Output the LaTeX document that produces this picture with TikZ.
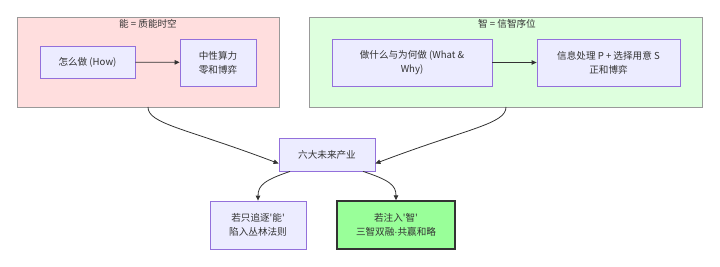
\documentclass[tikz,border=0pt]{standalone}
\usepackage{fontspec}
\newfontfamily\cjk{Noto Sans CJK SC}
\newfontfamily\latinf{Liberation Sans}
\usetikzlibrary{arrows.meta}
\definecolor{txt}{HTML}{333333}
\definecolor{nfill}{HTML}{ECECFF}
\definecolor{nborder}{HTML}{9370DB}
\definecolor{pinkfill}{HTML}{FFDEDE}
\definecolor{greenfill}{HTML}{DEFFDE}
\definecolor{cborder}{HTML}{999999}
\definecolor{winfill}{HTML}{99FF99}
\begin{document}
\begin{tikzpicture}[x=1pt,y=-1pt,
  every node/.style={font=\cjk\fontsize{9.6}{14}\selectfont, text=txt},
  box/.style={draw=nborder, fill=nfill, line width=0.8pt, align=center, inner sep=0pt},
  winbox/.style={draw=txt, fill=winfill, line width=1.4pt, align=center, inner sep=0pt},
  cluster/.style={draw=cborder, line width=0.8pt},
  link/.style={draw=txt, line width=0.8pt, -{Triangle[length=5pt,width=4.5pt]}}
]
\useasboundingbox (0,0) rectangle (720,267);
% clusters
\draw[cluster, fill=pinkfill] (17,17) rectangle (279,107);
\node (t1) at (148,24) {能 = 质能时空};
\draw[cluster, fill=greenfill] (309,17) rectangle (702,107);
\node (t2) at (507,24) {智 = 信智序位};
\coordinate (c1) at (148,107);
\coordinate (c2) at (506,107);
% nodes
\node[box, minimum width=95pt, minimum height=32pt] (a) at (87.5,62) {怎么做 (How)};
\node[box, minimum width=76pt, minimum height=47pt] (b) at (218,62.5) {中性算力\\零和博弈};
\node[box, minimum width=160pt, minimum height=47pt] (c) at (412,62.5) {做什么与为何做 (What \&\\Why)};
\node[box, minimum width=143pt, minimum height=47pt] (d) at (608.5,62.5) {信息处理 P + 选择用意 S\\正和博弈};
\node[box, minimum width=96pt, minimum height=33pt] (e) at (327,154.5) {六大未来产业};
\node[box, minimum width=96pt, minimum height=48pt] (f) at (258,225) {若只追逐'能'\\陷入丛林法则};
\node[winbox, minimum width=118pt, minimum height=48pt] (g) at (396,225) {若注入'智'\\三智双融{\latinf ·}共赢和略};
% edges
\draw[link] (c1) .. controls (148,124) and (185,128) .. ([yshift=-9pt]e.west);
\draw[link] (c2) .. controls (506,124) and (469,128) .. ([yshift=-9pt]e.east);
\draw[link] (a) -- (b);
\draw[link] (c) -- (d);
\draw[link] ([xshift=-37pt]e.south) .. controls (265,180) and (258,185) .. (f.north);
\draw[link] ([xshift=36pt]e.south) .. controls (389,180) and (396,185) .. (g.north);
\end{tikzpicture}
\end{document}
